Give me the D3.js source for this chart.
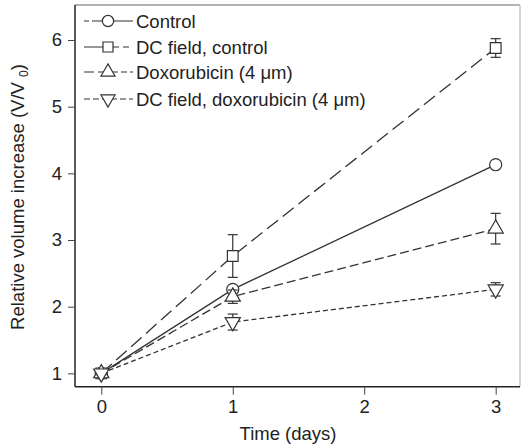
<!DOCTYPE html>
<html><head><meta charset="utf-8">
<script src="https://cdn.jsdelivr.net/npm/d3@7"></script>
<style>body{margin:0;background:#fff;} text{font-family:Arial,"Liberation Sans",sans-serif;fill:#222;}</style>
</head><body>
<svg id="c" width="523" height="448"></svg>
<script>
const days = [0, 1, 3];
const seriesNames = ["Control", "DC field, control", "Doxorubicin (4 \u03bcm)", "DC field, doxorubicin (4 \u03bcm)"];
const controlVals = [1, 2.26, 4.13];
const controlErr = [0.02, 0.03, 0.03];
const dcControlVals = [1, 2.76, 5.88];
const dcControlErr = [0.03, 0.32, 0.14];
const doxVals = [1, 2.15, 3.17];
const doxErr = [0.02, 0.1, 0.23];
const dcDoxVals = [1, 1.77, 2.26];
const dcDoxErr = [0.02, 0.12, 0.1];
const xTicks = [0, 1, 2, 3];
const yTicks = [1, 2, 3, 4, 5, 6];

const svg = d3.select("#c");
const x = d3.scaleLinear().domain([-0.2, 3.185]).range([75, 520]);
const y = d3.scaleLinear().domain([0.8, 6.525]).range([386.7, 5]);
const FS = "18.5px";

const series = [
  {name: seriesNames[0], vals: controlVals, err: controlErr, sym: d3.symbolCircle, dash: null, rot: 0, leg: "5,3,200"},
  {name: seriesNames[1], vals: dcControlVals, err: dcControlErr, sym: d3.symbolSquare, dash: "14,6", rot: 0, leg: "35,4,6,4"},
  {name: seriesNames[2], vals: doxVals, err: doxErr, sym: d3.symbolTriangle, dash: "9,4", rot: 0, leg: "10,4,20,3,6,3,6,3"},
  {name: seriesNames[3], vals: dcDoxVals, err: dcDoxErr, sym: d3.symbolTriangle, dash: "5,3", rot: 180, leg: "6,3"}
];

// frame top/right (light)
svg.append("line").attr("x1",75).attr("x2",520).attr("y1",5).attr("y2",5).attr("stroke","#999").attr("stroke-width",1.5);
svg.append("line").attr("x1",520).attr("x2",520).attr("y1",5).attr("y2",386.7).attr("stroke","#bbb").attr("stroke-width",1.2);

// axes
const xAxis = d3.axisBottom(x).tickValues(xTicks).tickSize(8).tickPadding(5).tickFormat(d3.format("d"));
const gx = svg.append("g").attr("transform","translate(0,386.7)").call(xAxis);
gx.select(".domain").attr("stroke","#222").attr("stroke-width",1.5).attr("d","M75,0H520");
gx.selectAll(".tick line").attr("stroke","#444");
gx.selectAll("text").style("font-size",FS).attr("fill","#222");

const yAxis = d3.axisLeft(y).tickValues(yTicks).tickSize(7).tickPadding(6).tickFormat(d3.format("d"));
const gy = svg.append("g").attr("transform","translate(75,0)").call(yAxis);
gy.select(".domain").attr("stroke","#222").attr("stroke-width",1.5).attr("d","M0,5V386.7");
gy.selectAll(".tick line").attr("stroke","#444");
gy.selectAll("text").style("font-size",FS).attr("fill","#222");

// axis titles
svg.append("text").attr("x",288).attr("y",440).attr("text-anchor","middle").style("font-size",FS).text("Time (days)");
const yt = svg.append("text").attr("transform","translate(24,197) rotate(-90)").attr("text-anchor","middle").style("font-size",FS);
yt.append("tspan").text("Relative volume increase (V/V ");
yt.append("tspan").text("0").style("font-size","12px").attr("dy","4");
yt.append("tspan").text(")").attr("dy","-4");

const line = d3.line().x((d,i)=>x(days[i])).y(d=>y(d));
series.forEach(s => {
  svg.append("path").attr("d", line(s.vals)).attr("fill","none").attr("stroke","#333").attr("stroke-width",1.3)
    .attr("stroke-dasharray", s.dash);
  s.vals.forEach((v,i) => {
    const cx = x(days[i]);
    const g = svg.append("g").attr("stroke","#333").attr("stroke-width",1.2);
    g.append("line").attr("x1",cx).attr("x2",cx).attr("y1",y(v - s.err[i])).attr("y2",y(v + s.err[i]));
    [v - s.err[i], v + s.err[i]].forEach(e => g.append("line").attr("x1",cx-5).attr("x2",cx+5).attr("y1",y(e)).attr("y2",y(e)));
  });
  svg.selectAll(null).data(s.vals).enter().append("path")
    .attr("d", d3.symbol().type(s.sym).size(s.sym===d3.symbolTriangle?100:115))
    .attr("transform",(d,i)=>`translate(${x(days[i])},${y(d)}) rotate(${s.rot})`)
    .attr("fill","#fff").attr("stroke","#333").attr("stroke-width",1.2);
});

// legend
const legY = [21, 47, 72, 99];
series.forEach((s,i) => {
  const g = svg.append("g").attr("transform",`translate(0,${legY[i]})`);
  g.append("line").attr("x1",84).attr("x2",133).attr("y1",0).attr("y2",0).attr("stroke","#333").attr("stroke-width",1.2).attr("stroke-dasharray", s.leg);
  g.append("path").attr("d", d3.symbol().type(s.sym).size(s.sym===d3.symbolTriangle?85:100)).attr("transform",`translate(108,0) rotate(${s.rot})`)
    .attr("fill","#fff").attr("stroke","#333").attr("stroke-width",1.2);
  g.append("text").attr("x",136).attr("y",7).style("font-size",FS).text(s.name);
});
</script>
</body></html>
